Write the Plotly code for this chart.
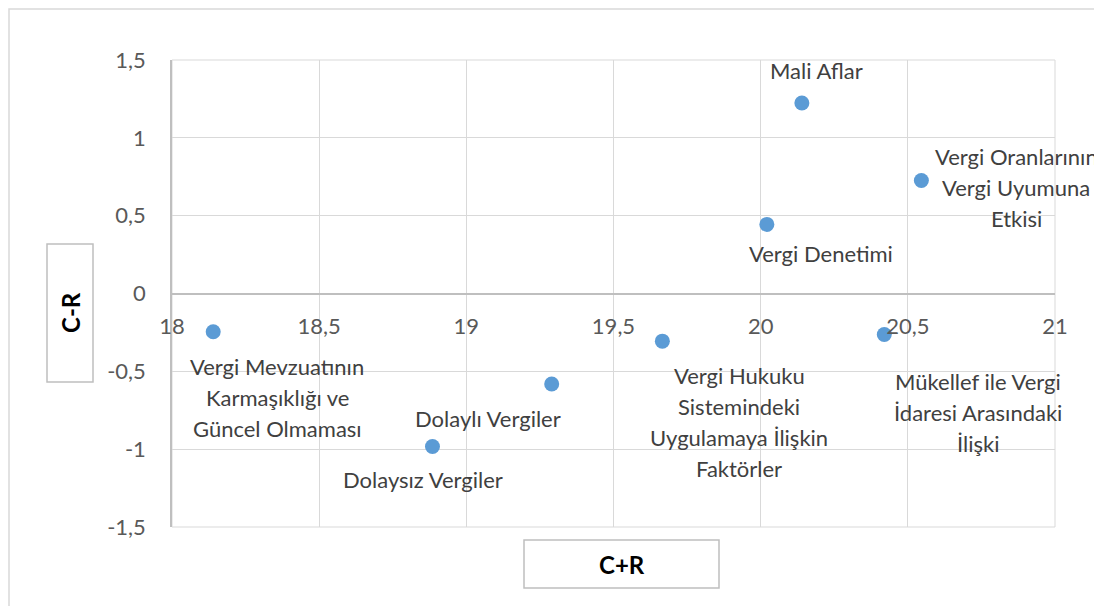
import plotly.graph_objects as go

# ---- data ----
labels = [
    "Vergi Mevzuatının<br>Karmaşıklığı ve<br>Güncel Olmaması",
    "Dolaysız Vergiler",
    "Dolaylı Vergiler",
    "Vergi Hukuku<br>Sistemindeki<br>Uygulamaya İlişkin<br>Faktörler",
    "Vergi Denetimi",
    "Mali Aflar",
    "Mükellef ile Vergi<br>İdaresi Arasındaki<br>İlişki",
    "Vergi Oranlarının<br>Vergi Uyumuna<br>Etkisi",
]
c_plus_r = [18.14, 18.885, 19.29, 19.666, 20.021, 20.14, 20.42, 20.546]
c_minus_r = [-0.246, -0.983, -0.581, -0.306, 0.444, 1.224, -0.263, 0.726]

x_tickvals = [18, 18.5, 19, 19.5, 20, 20.5, 21]
x_ticktext = ["18", "18,5", "19", "19,5", "20", "20,5", "21"]
y_tickvals = [-1.5, -1, -0.5, 0, 0.5, 1, 1.5]
y_ticktext = ["-1,5", "-1", "-0,5", "0", "0,5", "1", "1,5"]

x_title = "C+R"
y_title = "C-R"

# ---- label placement (pixel offsets of the label block centre from its point) ----
label_offsets = [(64, 66), (-9, 33), (-64, 35), (77, 81), (54, 29), (15, -32), (94, 78), (95, 7)]
LINE_H = 31

# ---- layout geometry (page has an 8px body margin) ----
OFF = 8
W, H = 1102 - OFF, 606 - OFF
ML, MR, MT, MB = 172 - OFF, 47, 60 - OFF, 79
PW, PH = W - ML - MR, H - MT - MB
XR = [18, 21]
YR = [-1.5, 1.5]

def px(xp):
    """screen pixel x -> paper x"""
    return (xp - OFF - ML) / PW

def py(yp):
    """screen pixel y -> paper y"""
    return (OFF + H - MB - yp) / PH

FONT = "Lato, 'Open Sans', sans-serif"
TICK_C = "#595959"
LABEL_C = "#404040"
GRID_C = "#D9D9D9"
AXIS_C = "#BFBFBF"
FS = 22

fig = go.Figure()
fig.add_trace(go.Scatter(
    x=c_plus_r, y=c_minus_r, mode="markers",
    marker=dict(color="#5B9BD5", size=15, line=dict(width=0)),
    hoverinfo="skip", showlegend=False,
))

annotations = []
for xv, yv, lab, (dx, dy) in zip(c_plus_r, c_minus_r, labels, label_offsets):
    lines = lab.split("<br>")
    n = len(lines)
    for i, line in enumerate(lines):
        off = dy + (i - (n - 1) / 2) * LINE_H
        annotations.append(dict(
            x=xv, y=yv, xref="x", yref="y", text=line, showarrow=False,
            xanchor="center", yanchor="middle", xshift=dx, yshift=-off,
            font=dict(family=FONT, size=FS, color=LABEL_C),
        ))

# axis titles in boxes
ybox = (47, 244, 93, 382)
xbox = (524, 540, 719, 588)
annotations.append(dict(
    x=px((ybox[0] + ybox[2]) / 2), y=py((ybox[1] + ybox[3]) / 2), xref="paper", yref="paper",
    text="<b>" + y_title + "</b>", textangle=-90, showarrow=False,
    xanchor="center", yanchor="middle", font=dict(family=FONT, size=24, color="#000000"),
))
annotations.append(dict(
    x=px((xbox[0] + xbox[2]) / 2), y=py((xbox[1] + xbox[3]) / 2), xref="paper", yref="paper",
    text="<b>" + x_title + "</b>", showarrow=False,
    xanchor="center", yanchor="middle", font=dict(family=FONT, size=24, color="#000000"),
))

shapes = []
for (x0, y0, x1, y1) in (ybox, xbox):
    shapes.append(dict(type="rect", xref="paper", yref="paper",
                       x0=px(x0), x1=px(x1), y0=py(y1), y1=py(y0),
                       line=dict(color=AXIS_C, width=1.5), fillcolor="white", layer="below"))
# outer chart frame (extends past right/bottom edge)
shapes.append(dict(type="rect", xref="paper", yref="paper",
                   x0=px(9), x1=px(1102 + 20), y0=py(606 + 20), y1=py(OFF + 1),
                   line=dict(color=GRID_C, width=1.5), fillcolor="rgba(0,0,0,0)", layer="below"))
# plot-area border
shapes.append(dict(type="rect", xref="x domain", yref="y domain", x0=0, x1=1, y0=0, y1=1,
                   line=dict(color=GRID_C, width=1), layer="below"))

# x axis crosses at y = 0
zero_pos = (0 - YR[0]) / (YR[1] - YR[0])

fig.update_layout(
    width=W, height=H,
    margin=dict(l=ML, r=MR, t=MT, b=MB, pad=0),
    paper_bgcolor="white", plot_bgcolor="white",
    font=dict(family=FONT, size=FS, color=TICK_C),
    xaxis=dict(
        range=XR, tickvals=x_tickvals, ticktext=x_ticktext,
        showgrid=True, gridcolor=GRID_C, gridwidth=1,
        zeroline=False, showline=False, ticks="",
        anchor="free", position=zero_pos, ticklabelstandoff=17,
        tickfont=dict(family=FONT, size=FS, color=TICK_C),
    ),
    yaxis=dict(
        range=YR, tickvals=y_tickvals, ticktext=y_ticktext,
        showgrid=True, gridcolor=GRID_C, gridwidth=1,
        zeroline=True, zerolinecolor=AXIS_C, zerolinewidth=1.5,
        showline=True, linecolor=AXIS_C, linewidth=1.5, ticks="",
        ticklabelstandoff=20,
        tickfont=dict(family=FONT, size=FS, color=TICK_C),
    ),
    annotations=annotations,
    shapes=shapes,
    showlegend=False,
)

fig.write_html("out.html")
